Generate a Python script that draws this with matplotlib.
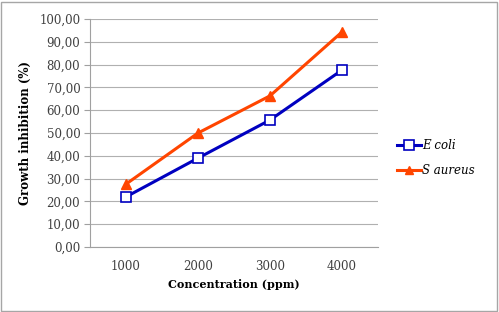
import matplotlib
matplotlib.use("Agg")
import matplotlib.pyplot as plt
from matplotlib.patches import Rectangle
from matplotlib.lines import Line2D

categories = ["1000", "2000", "3000", "4000"]
e_coli = [22.0, 39.0, 55.7, 77.6]
s_aureus = [27.6, 50.0, 66.3, 94.3]
yticks = [0, 10, 20, 30, 40, 50, 60, 70, 80, 90, 100]

plt.rcParams['font.family'] = ['DejaVu Serif']

fig = plt.figure(figsize=(4.99, 3.12), dpi=100)
fig.patches.append(Rectangle((0.002, 0.004), 0.994, 0.99, transform=fig.transFigure,
                             fill=False, edgecolor='#a6a6a6', linewidth=1.0))
ax = fig.add_axes([0.1804, 0.2083, 0.577, 0.7307])

x = list(range(len(categories)))
ax.plot(x, e_coli, color='#0000c0', linewidth=2.2, marker='s', markersize=7.5,
        markerfacecolor='white', markeredgecolor='#0000c0', markeredgewidth=1.2, label='E coli', zorder=3)
ax.plot(x, s_aureus, color='#ff4500', linewidth=2.2, marker='^', markersize=7.5,
        markerfacecolor='#ff4500', markeredgecolor='#ff4500', label='S aureus', zorder=3)

ax.set_xlim(-0.5, 3.5)
ax.set_ylim(0, 100)
ax.set_yticks(yticks)
ax.set_yticklabels([f"{v:.2f}".replace('.', ',') for v in yticks], fontsize=8.5, color='#404040')
ax.set_xticks(x)
ax.set_xticklabels(categories, fontsize=8.5, color='#404040')
ax.tick_params(axis='x', length=0, pad=9)
ax.tick_params(axis='y', length=4, color='#a0a0a0', pad=3)
ax.grid(axis='y', color='#b0b0b0', linewidth=0.8)
ax.set_axisbelow(True)
for s in ['top', 'right']:
    ax.spines[s].set_visible(False)
ax.spines['left'].set_color('#a0a0a0')
ax.spines['bottom'].set_color('#a0a0a0')

ax.set_xlabel('Concentration (ppm)', fontsize=8, fontweight='bold', labelpad=5)
ax.set_ylabel('Growth inhibition (%)', fontsize=8.5, fontweight='bold', labelpad=5)

h1 = Line2D([], [], color='#0000c0', linewidth=2.2, marker='s', markersize=7,
            markerfacecolor='white', markeredgecolor='#0000c0', markeredgewidth=1.2)
h2 = Line2D([], [], color='#ff4500', linewidth=2.2, marker='^', markersize=6,
            markerfacecolor='#ff4500', markeredgecolor='#ff4500')
leg = ax.legend([h1, h2], ['E coli', 'S aureus'], loc='center left', bbox_to_anchor=(1.031, 0.39),
                frameon=False, prop={'style': 'italic', 'size': 8.5}, handlelength=2.0,
                handletextpad=0.1, labelspacing=1.0)

fig.savefig('out.png', dpi=100)
